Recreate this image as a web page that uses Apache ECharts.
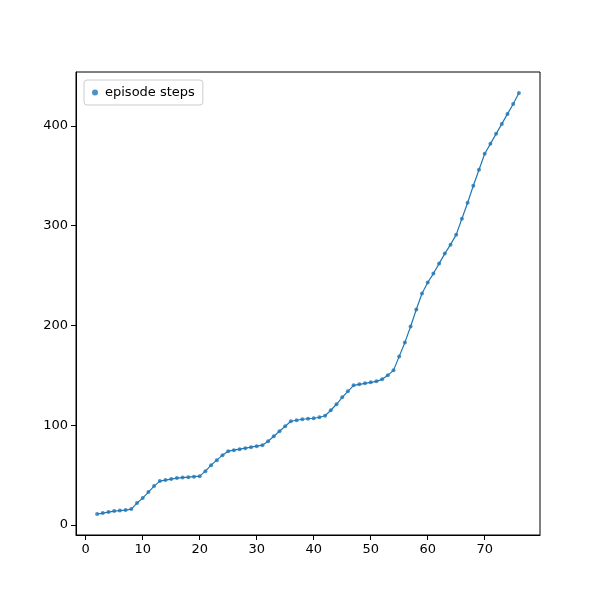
<!DOCTYPE html>
<html><head><meta charset="utf-8">
<script src="https://cdn.jsdelivr.net/npm/echarts@6/dist/echarts.min.js"></script>
<style>body{margin:0}#c{width:600px;height:600px}</style></head>
<body><div id="c"></div>
<script>
const xs = [];
for (let i = 2; i <= 76; i++) xs.push(i);
const steps = [11,12,13,14,14.5,15,16,22,27,33,39,44,45,46,47,47.5,48,48.5,49,54,60,65,70,74,75,76,77,78,79,80,84,89,94,99,104,105,106,106.5,107,108,109.5,115,121,128,134,140,141,142,143,144,146,150,155,169,183,199,216,232,243,252,262,272,281,291,307,323,340,356,372,382,392,402,412,422,433];
const pts = xs.map((x,i)=>[x,steps[i]]);
const c = echarts.init(document.getElementById('c'));
c.setOption({
  animation:false,
  grid:{left:76,right:60,top:72,bottom:65},
  legend:{left:84,top:80,orient:'vertical',data:['episode steps'],itemWidth:10,itemHeight:6,
    textStyle:{fontFamily:'DejaVu Sans',fontSize:13,color:'#000'},
    borderColor:'#ccc',borderWidth:1,borderRadius:3,padding:[6,8]},
  xAxis:{type:'value',min:-1.7,max:79.7,splitNumber:8,axisTick:{show:true,lineStyle:{color:'#000'}},
    splitLine:{show:false},axisLabel:{showMinLabel:false,showMaxLabel:false,color:'#000',fontFamily:'DejaVu Sans',fontSize:13},
    axisLine:{onZero:false,lineStyle:{color:'#000'}}},
  yAxis:{type:'value',min:-10,max:454,splitNumber:5,axisTick:{show:true,lineStyle:{color:'#000'}},
    splitLine:{show:false},axisLabel:{showMinLabel:false,showMaxLabel:false,color:'#000',fontFamily:'DejaVu Sans',fontSize:13},
    axisLine:{show:true,onZero:false,lineStyle:{color:'#000'}}},
  series:[
    {name:'line',type:'line',data:pts,symbol:'none',lineStyle:{color:'#1f77b4',width:1.2},z:2},
    {name:'episode steps',type:'scatter',data:pts,symbolSize:4,itemStyle:{color:'#1f77b4'},z:3}
  ]
});
c.setOption({graphic:[{type:'rect',shape:{x:76,y:72,width:464,height:463},style:{fill:null,stroke:'#000',lineWidth:1},silent:true}]});
</script></body></html>
